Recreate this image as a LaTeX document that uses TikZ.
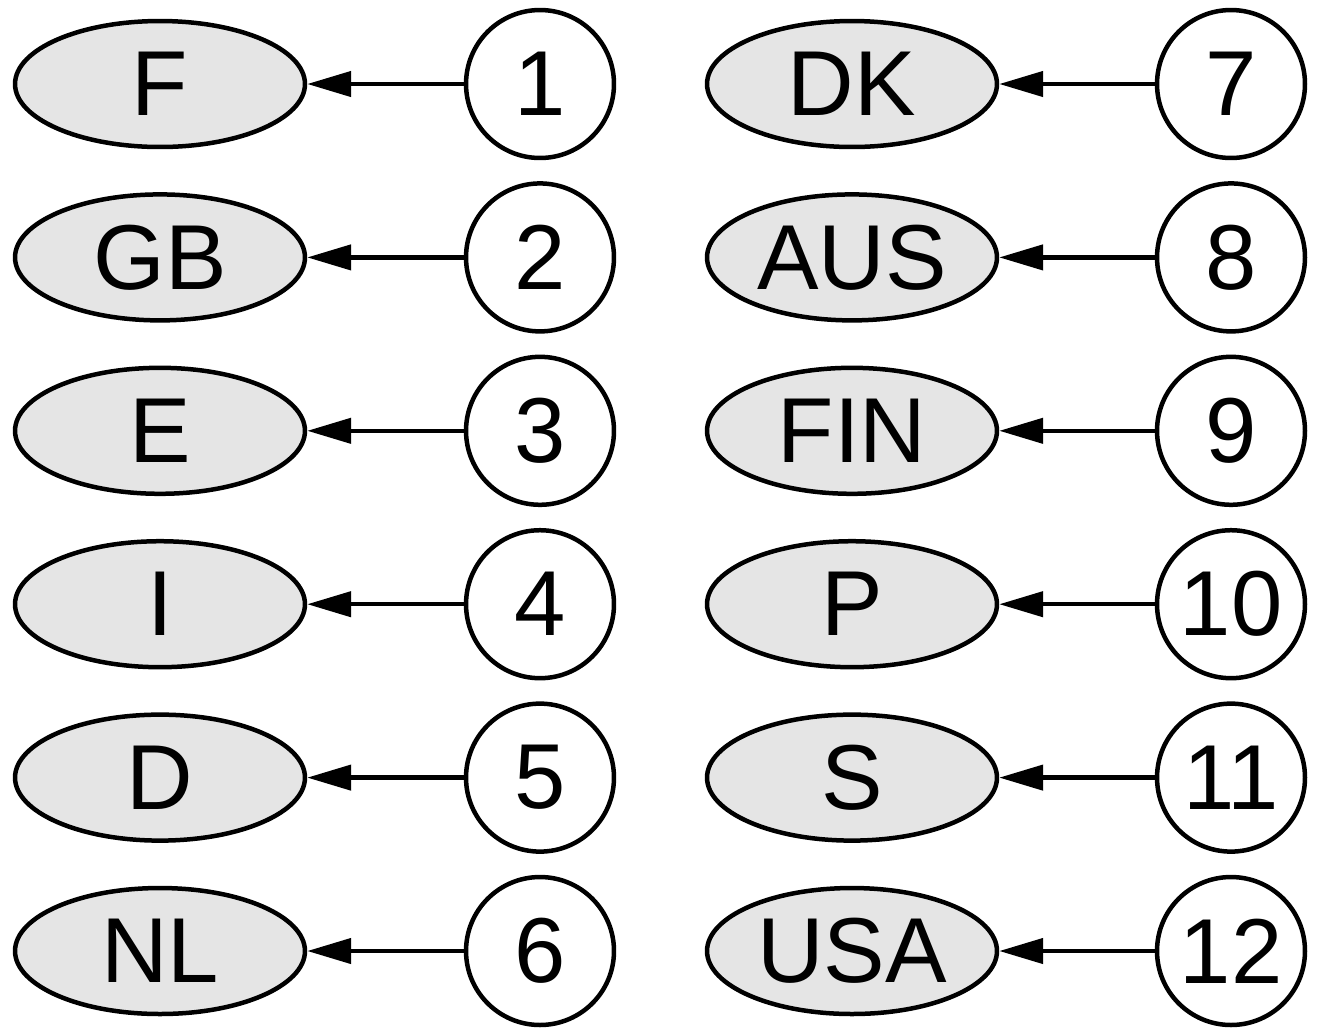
\documentclass[tikz,border=0pt]{standalone}
\usepackage{fontspec}
\setmainfont{Liberation Sans}
\usetikzlibrary{positioning,arrows.meta,shapes.geometric}
\definecolor{plate}{HTML}{E5E5E5}

\begin{document}
\begin{tikzpicture}[x=0.02cm,y=-0.02cm,
  font=\fontsize{52.5}{60}\selectfont,
  code/.style={ellipse,draw,fill=plate,line width=0.09cm,inner sep=0pt,
    minimum width=5.8cm,minimum height=2.52cm},
  num/.style={circle,draw,fill=white,line width=0.09cm,inner sep=0pt,minimum size=2.96cm},
  link/.style={line width=0.09cm,-{Triangle[length=0.88cm,width=0.5cm]}}]
\useasboundingbox (0,0) rectangle (1321,1029);
% left column
\foreach \lab [count=\i] in {F,GB,E,I,D,NL}{
  \node[code] (c\i) at (160,{84+173.4*(\i-1)}) {\lab};
  \node[num] (n\i) at (540,{84+173.4*(\i-1)}) {\i};
  \draw[link] (n\i) -- (c\i);
}
% right column
\foreach \lab [count=\i from 7] in {DK,AUS,FIN,P,S,USA}{
  \node[code] (c\i) at (852,{84+173.4*(\i-7)}) {\lab};
  \node[num] (n\i) at (1231,{84+173.4*(\i-7)}) {\i};
  \draw[link] (n\i) -- (c\i);
}
\end{tikzpicture}
\end{document}
